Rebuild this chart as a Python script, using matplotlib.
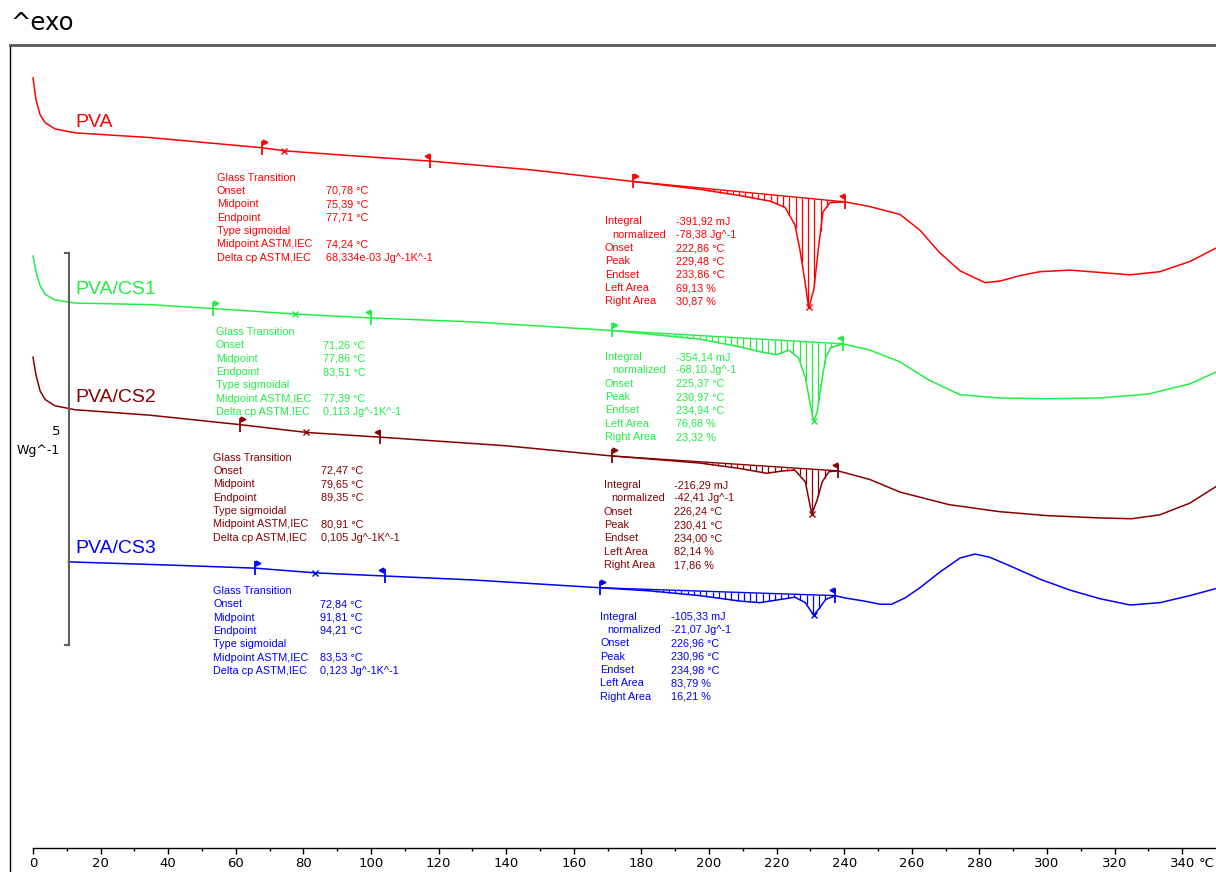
import numpy as np
import matplotlib.pyplot as plt
from matplotlib import transforms

# DSC curves: temperature (°C) and displayed heat flow (W/g, curves stacked)
T_pva = [0, 0.9, 2.1, 3.6, 6.5, 12.4, 34.6, 67.8, 74.6, 93.8, 117.5, 147, 177.5, 197.3, 209.2,
         218, 222.5, 225.4, 226.9, 228.4, 229.5, 231, 232.5, 233.7, 235.8, 240.2, 247.6, 256.5,
         262.4, 268.3, 274.3, 281.7, 286.1, 292, 297.9, 306.8, 315.7, 324.6, 333.4, 342.3, 350]
hf_pva = [9.78, 9.50, 9.31, 9.21, 9.13, 9.08, 9.02, 8.89, 8.85, 8.79, 8.72, 8.61, 8.46, 8.36, 8.28,
          8.21, 8.13, 7.91, 7.59, 7.18, 6.85, 7.08, 7.65, 8.07, 8.19, 8.20, 8.14, 8.04,
          7.84, 7.55, 7.32, 7.17, 7.19, 7.26, 7.31, 7.33, 7.30, 7.27, 7.31, 7.44, 7.61]

T_cs1 = [0, 0.9, 2.1, 3.6, 6.5, 12.4, 34.6, 53.3, 77.4, 100, 130, 171.3, 197.3, 209.2, 215,
         220, 223.6, 226.5, 228.5, 230, 230.97, 232, 233.2, 234.5, 236, 239.6, 247.6, 256.5,
         265, 274.3, 286, 300, 315.7, 330, 342.3, 350]
hf_cs1 = [7.51, 7.31, 7.13, 7.02, 6.95, 6.91, 6.89, 6.84, 6.77, 6.72, 6.67, 6.56, 6.45, 6.35, 6.29,
          6.25, 6.31, 6.21, 5.96, 5.61, 5.40, 5.52, 5.87, 6.21, 6.34, 6.39, 6.31, 6.16,
          5.93, 5.74, 5.70, 5.69, 5.70, 5.75, 5.88, 6.03]

T_cs2 = [0, 0.9, 2.1, 3.6, 6.5, 12.4, 34.6, 61.2, 81, 102.7, 140, 171.3, 197.3, 209.2, 217,
         222, 225.4, 228.5, 230.41, 232, 233.5, 235.5, 238.2, 247.6, 256.5, 271, 286, 300,
         315.7, 325, 333.4, 342.3, 350]
hf_cs2 = [6.22, 5.99, 5.79, 5.68, 5.60, 5.55, 5.48, 5.36, 5.26, 5.20, 5.09, 4.96, 4.87, 4.80, 4.74,
          4.77, 4.78, 4.63, 4.22, 4.40, 4.63, 4.76, 4.77, 4.66, 4.50, 4.34, 4.25, 4.20,
          4.17, 4.16, 4.21, 4.36, 4.57]

T_cs3 = [10.5, 40, 65.7, 83.5, 104, 130, 167.8, 182.5, 197.3, 209.2, 215, 221, 225.4, 228.5,
         230.96, 232.5, 234.5, 237.3, 240.2, 246, 250.6, 254, 258, 262.4, 268.3, 274.3, 278.7,
         283, 289, 297.9, 306.8, 315.7, 324.6, 333.4, 342.3, 350]
hf_cs3 = [3.61, 3.57, 3.53, 3.47, 3.43, 3.38, 3.28, 3.24, 3.18, 3.11, 3.09, 3.13, 3.16, 3.09,
          2.93, 3.01, 3.13, 3.18, 3.15, 3.11, 3.07, 3.07, 3.15, 3.28, 3.48, 3.66, 3.71,
          3.67, 3.56, 3.39, 3.25, 3.14, 3.06, 3.09, 3.18, 3.27]

names = ["PVA", "PVA/CS1", "PVA/CS2", "PVA/CS3"]
colors = ["#ff0000", "#22ee44", "#880000", "#0000ff"]

# glass transition: evaluation limits, onset, midpoint, endpoint, midpoint ASTM, delta cp
tg_limits = [(67.8, 117.5), (53.3, 100), (61.2, 102.7), (65.7, 104)]
tg_onset = [70.78, 71.26, 72.47, 72.84]
tg_mid = [75.39, 77.86, 79.65, 91.81]
tg_end = [77.71, 83.51, 89.35, 94.21]
tg_astm = [74.24, 77.39, 80.91, 83.53]
tg_dcp = [0.068334, 0.113, 0.105, 0.123]

# melting peak integration
int_limits = [(177.5, 240.2), (171.3, 239.6), (171.3, 238.2), (167.8, 237.3)]
integral_mj = [-391.92, -354.14, -216.29, -105.33]
normalized = [-78.38, -68.10, -42.41, -21.07]
pk_onset = [222.86, 225.37, 226.24, 226.96]
pk_peak = [229.48, 230.97, 230.41, 230.96]
pk_endset = [233.86, 234.94, 234.00, 234.98]
left_area = [69.13, 76.68, 82.14, 83.79]
right_area = [30.87, 23.32, 17.86, 16.21]

curves = [(T_pva, hf_pva), (T_cs1, hf_cs1), (T_cs2, hf_cs2), (T_cs3, hf_cs3)]

# text placement (label x, value x, first line y) for the two result boxes
tg_box = [(54.4, 86.7, 8.51), (54.1, 85.8, 6.54), (53.3, 85.2, 4.94), (53.3, 84.9, 3.24)]
int_box = [(169.2, 190.2, 7.95), (169.2, 190.2, 6.22), (168.9, 189.6, 4.59), (167.8, 188.8, 2.91)]
name_pos = [(12.4, 9.21), (12.4, 7.08), (12.4, 5.70), (12.4, 3.78)]
step = 0.170


def fmt(v, unit):
    return ("%.2f" % v).replace(".", ",") + " " + unit


def fmt_dcp(v):
    if v < 0.1:
        return ("%.3f" % (v * 1000)).replace(".", ",") + "e-03 Jg^-1K^-1"
    return ("%.3f" % v).replace(".", ",") + " Jg^-1K^-1"


fig = plt.figure(figsize=(12.16, 8.72), dpi=100)
ax = fig.add_axes([10 / 1216, 0, 1206 / 1216, 827 / 872])
ax.set_xlim(-6.8, 350)
ax.set_ylim(-0.344, 10.20)

ax.spines["right"].set_visible(False)
ax.spines["top"].set_color("#5a5a5a")
ax.spines["top"].set_linewidth(2)
ax.spines["left"].set_color("black")
ax.spines["left"].set_linewidth(1)
ax.spines["bottom"].set_position(("data", -0.04))
ax.spines["bottom"].set_bounds(0, 350)
ax.spines["bottom"].set_linewidth(1)
ax.tick_params(left=False, labelleft=False)
ax.set_xticks(range(0, 341, 20))
ax.set_xticks(range(10, 350, 20), minor=True)
ax.tick_params(axis="x", which="major", direction="out", length=4, width=1, labelsize=9.5, pad=2.5)
ax.tick_params(axis="x", which="minor", direction="out", length=2.2, width=1)
ax.annotate("°C", xy=(340, -0.04), xytext=(12, -6.5), textcoords="offset points",
            ha="left", va="top", fontsize=9.5)

small = dict(family=["Liberation Sans"], fontsize=7.8, va="center")
up = transforms.offset_copy(ax.transData, fig=fig, x=0, y=4, units="points")

for i, (T, hf) in enumerate(curves):
    c = colors[i]
    ax.plot(T, hf, color=c, lw=1.1)

    # integration baseline and hatching
    a, b = int_limits[i]
    ya, yb = np.interp(a, T, hf), np.interp(b, T, hf)
    ax.plot([a, b], [ya, yb], color=c, lw=1.0)
    xs = np.arange(a + 1.85, b, 1.85)
    base = ya + (yb - ya) * (xs - a) / (b - a)
    curve = np.interp(xs, T, hf)
    keep = base - curve > 0.02
    ax.vlines(xs[keep], curve[keep], base[keep], color=c, lw=0.9)

    # limit flags
    for (lo, hi) in (tg_limits[i], int_limits[i]):
        for x0, m in ((lo, ">"), (hi, "<")):
            y0 = np.interp(x0, T, hf)
            ax.plot([x0], [y0], marker="|", ms=10, mew=1.3, color=c)
            ax.plot([x0 + (0.9 if m == ">" else -0.9)], [y0], marker=m, ms=3.5,
                    color=c, transform=up)

    ax.plot([tg_astm[i]], [np.interp(tg_astm[i], T, hf)], marker="x", ms=5, mew=1, color=c)
    ax.plot([pk_peak[i]], [np.interp(pk_peak[i], T, hf)], marker="x", ms=5, mew=1, color=c)

    nx, ny = name_pos[i]
    ax.text(nx, ny, names[i], color=c, family=["Liberation Sans"], fontsize=14, va="center")

    # glass transition results
    lx, vx, y = tg_box[i]
    rows = [("Glass Transition", ""),
            ("Onset", fmt(tg_onset[i], "°C")),
            ("Midpoint", fmt(tg_mid[i], "°C")),
            ("Endpoint", fmt(tg_end[i], "°C")),
            ("Type sigmoidal", ""),
            ("Midpoint ASTM,IEC", fmt(tg_astm[i], "°C")),
            ("Delta cp ASTM,IEC", fmt_dcp(tg_dcp[i]))]
    for k, (lab, val) in enumerate(rows):
        ax.text(lx, y - k * step, lab, color=c, **small)
        if val:
            ax.text(vx, y - k * step, val, color=c, **small)

    # peak integration results
    lx, vx, y = int_box[i]
    rows = [("Integral", fmt(integral_mj[i], "mJ")),
            ("normalized", fmt(normalized[i], "Jg^-1")),
            ("Onset", fmt(pk_onset[i], "°C")),
            ("Peak", fmt(pk_peak[i], "°C")),
            ("Endset", fmt(pk_endset[i], "°C")),
            ("Left Area", fmt(left_area[i], "%")),
            ("Right Area", fmt(right_area[i], "%"))]
    for k, (lab, val) in enumerate(rows):
        ax.text(lx + (2.1 if k == 1 else 0), y - k * step, lab, color=c, **small)
        ax.text(vx, y - k * step, val, color=c, **small)

# scale bar 5 W/g
ax.plot([10.65, 10.65], [2.55, 7.55], color="#606060", lw=1.5)
ax.plot([9.5, 10.65], [7.55, 7.55], color="#606060", lw=1.5)
ax.plot([9.5, 10.65], [2.55, 2.55], color="#606060", lw=1.5)
ax.text(8.0, 5.27, "5", ha="right", va="center", fontsize=9.5)
ax.text(8.0, 5.03, "Wg^-1", ha="right", va="center", fontsize=9)

fig.text(10 / 1216, 1 - 23 / 872, "^exo", fontsize=17.5, va="center")

fig.savefig("out.png", dpi=100)
